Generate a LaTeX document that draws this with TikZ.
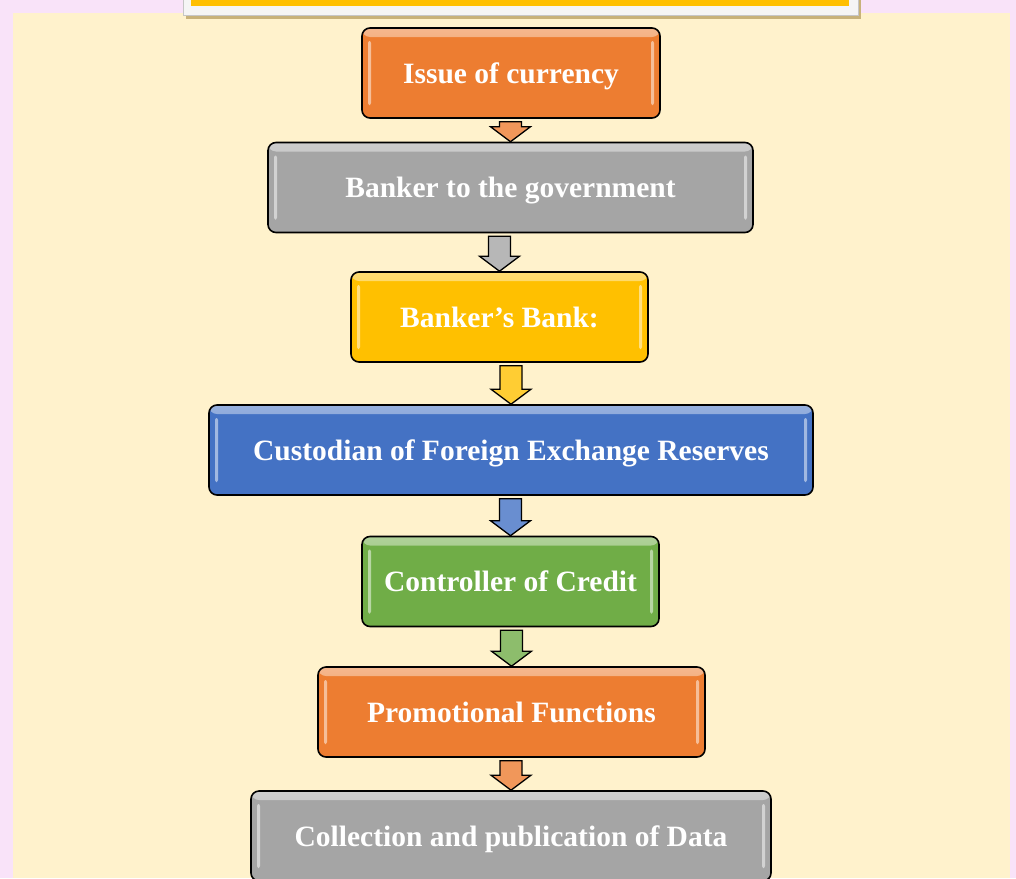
\documentclass[tikz,border=0pt]{standalone}
\usepackage{fontspec}
\setmainfont{Liberation Serif}
\usepackage{xcolor}
\usetikzlibrary{calc}

\definecolor{pinkbg}{HTML}{F9E3F9}
\definecolor{creambg}{HTML}{FFF2CC}
\definecolor{boxorange}{HTML}{ED7D31}
\definecolor{boxgrey}{HTML}{A5A5A5}
\definecolor{boxyellow}{HTML}{FFC000}
\definecolor{boxblue}{HTML}{4472C4}
\definecolor{boxgreen}{HTML}{70AD47}
\definecolor{shadowtan}{HTML}{C8B27A}

\begin{document}
\begin{tikzpicture}[x=1pt, y=-1pt,
  glossnode/.style={rectangle, rounded corners=8pt, draw=black, line width=1.6pt, fill=#1, text=white, inner sep=0pt, minimum height=90pt,
    font=\fontsize{29.5}{34}\selectfont\bfseries, text height=26pt, text depth=6pt,
    path picture={
      \shade[top color=#1!55!white, bottom color=#1] (path picture bounding box.north west) rectangle ([yshift=-9pt]path picture bounding box.north east);
      \fill[white, opacity=0.5, rounded corners=2pt] ([xshift=6pt,yshift=-13pt]path picture bounding box.north west) rectangle ([xshift=9pt,yshift=13pt]path picture bounding box.south west);
      \fill[white, opacity=0.5, rounded corners=2pt] ([xshift=-6pt,yshift=-13pt]path picture bounding box.north east) rectangle ([xshift=-9pt,yshift=13pt]path picture bounding box.south east);
    }},
  blockarrow/.style={draw=black, line width=1.3pt, fill=#1!80!white, line join=miter,
    to path={(\tikztotarget |- \tikztostart) coordinate (as) (\tikztotarget) coordinate (at)
      ($(as)+(-11,3)$) -- ($(as)+(11,3)$) -- ($(at)+(11,-15)$) -- ($(at)+(20,-15)$) -- (at)
      -- ($(at)+(-20,-15)$) -- ($(at)+(-11,-15)$) -- cycle}}
]
\clip (0,0) rectangle (1016,878);

% page background
\fill[pinkbg] (0,0) rectangle (1016,878);
\fill[creambg] (13,13) rectangle (1010,878);

% title strip at the top
\fill[shadowtan] (186,0) rectangle (861,19);
\filldraw[fill=gray!8, draw=gray!45] (183,-2) rectangle (858,15);
\fill[boxyellow] (191,-2) rectangle (849,6);


\node[glossnode=boxorange, minimum width=298pt] at (511,73) (f1) {Issue of currency};
\node[glossnode=boxgrey, minimum width=485pt] at (510.5,187.5) (f2) {Banker to the government};
\draw[blockarrow=boxorange] (f1.south) to (f2.north);
\node[glossnode=boxyellow, minimum width=297pt] at (499.5,317) (f3) {Banker’s Bank:};
\draw[blockarrow=boxgrey] (f2.south) to (f3.north);
\node[glossnode=boxblue, minimum width=604pt] at (511,450) (f4) {Custodian of Foreign Exchange Reserves};
\draw[blockarrow=boxyellow] (f3.south) to (f4.north);
\node[glossnode=boxgreen, minimum width=297pt] at (510.5,581.5) (f5) {Controller of Credit};
\draw[blockarrow=boxblue] (f4.south) to (f5.north);
\node[glossnode=boxorange, minimum width=387pt] at (511.5,712) (f6) {Promotional Functions};
\draw[blockarrow=boxgreen] (f5.south) to (f6.north);
\node[glossnode=boxgrey, minimum width=520pt] at (511,836) (f7) {Collection and publication of Data};
\draw[blockarrow=boxorange] (f6.south) to (f7.north);


\end{tikzpicture}
\end{document}
